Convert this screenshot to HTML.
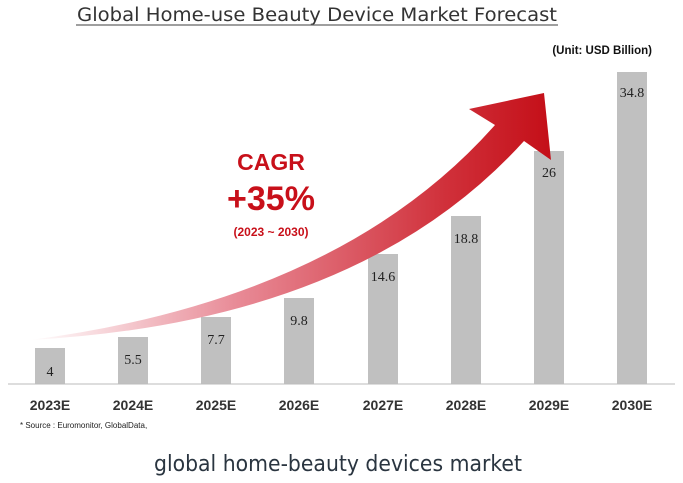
<!DOCTYPE html>
<html><head><meta charset="utf-8"><style>
body{margin:0;background:#fff;width:683px;height:478px;overflow:hidden;font-family:"Liberation Sans",sans-serif}
</style></head><body>
<svg width="683" height="478" xmlns="http://www.w3.org/2000/svg">
<defs>
<linearGradient id="g" x1="30" y1="0" x2="550" y2="0" gradientUnits="userSpaceOnUse">
<stop offset="0" stop-color="#fff"/><stop offset="0.4" stop-color="#e88a96"/><stop offset="0.8" stop-color="#d0303a"/><stop offset="1" stop-color="#c40f18"/>
</linearGradient>
</defs>
<text x="317" y="21" text-anchor="middle" font-size="18.5" fill="#333" font-family="DejaVu Sans,sans-serif" textLength="480" lengthAdjust="spacingAndGlyphs">Global Home-use Beauty Device Market Forecast</text>
<line x1="76" y1="25" x2="558" y2="25" stroke="#666" stroke-width="1.2"/>
<text x="652" y="54" text-anchor="end" font-size="11.5" font-weight="bold" fill="#111">(Unit: USD Billion)</text>
<g fill="#c0c0c0">
<rect x="35" y="348" width="30" height="36"/>
<rect x="118" y="337" width="30" height="47"/>
<rect x="201" y="317" width="30" height="67"/>
<rect x="284" y="298" width="30" height="86"/>
<rect x="368" y="254" width="30" height="130"/>
<rect x="451" y="216" width="30" height="168"/>
<rect x="534" y="151" width="30" height="233"/>
<rect x="617" y="72" width="30" height="312"/>
</g>
<path d="M30 340 Q340 300 495 125 L469 109 L544 93 L551 160 L524 141 Q360 322 30 340 Z" fill="url(#g)"/>
<g font-family="Liberation Serif,serif" font-size="14" fill="#222" text-anchor="middle">
<text x="50" y="376">4</text><text x="133" y="364">5.5</text><text x="216" y="344">7.7</text>
<text x="299" y="325">9.8</text><text x="383" y="281">14.6</text><text x="466" y="243">18.8</text>
<text x="549" y="177">26</text><text x="632" y="97">34.8</text>
</g>
<line x1="8" y1="384" x2="675" y2="384" stroke="#bbb" stroke-width="1"/>
<g font-size="14" font-weight="bold" fill="#333" text-anchor="middle">
<text x="50" y="410">2023E</text><text x="133" y="410">2024E</text><text x="216" y="410">2025E</text>
<text x="299" y="410">2026E</text><text x="383" y="410">2027E</text><text x="466" y="410">2028E</text>
<text x="549" y="410">2029E</text><text x="632" y="410">2030E</text>
</g>
<text x="20" y="428" font-size="8" fill="#222">* Source : Euromonitor, GlobalData,</text>
<g fill="#c8101a" font-weight="bold" text-anchor="middle">
<text x="271" y="170" font-size="23">CAGR</text>
<text x="271" y="210" font-size="34">+35%</text>
<text x="271" y="236" font-size="12">(2023 ~ 2030)</text>
</g>
<text x="338" y="471" text-anchor="middle" font-size="22" fill="#2a3540" font-family="DejaVu Sans,sans-serif" textLength="368" lengthAdjust="spacingAndGlyphs">global home-beauty devices market</text>
</svg>
</body></html>
